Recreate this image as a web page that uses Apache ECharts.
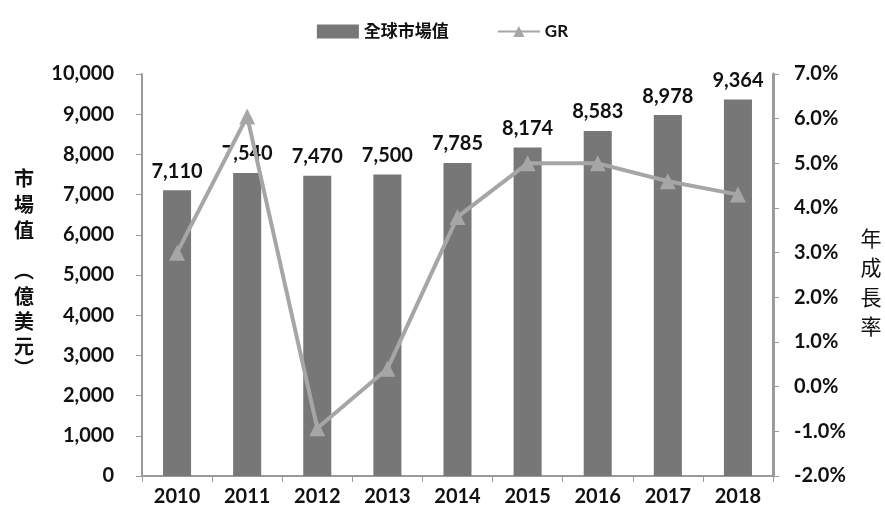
<!DOCTYPE html>
<html><head><meta charset="utf-8">
<script src="https://cdn.jsdelivr.net/npm/echarts@6/dist/echarts.min.js"></script>
<style>html,body{margin:0;padding:0;background:#fff}#c{width:885px;height:515px}</style>
</head><body><div id="c"></div>
<script>
const years = ['2010','2011','2012','2013','2014','2015','2016','2017','2018'];
const marketValue = [7110, 7540, 7470, 7500, 7785, 8174, 8583, 8978, 9364];
const growthRate = [3.0, 6.05, -0.93, 0.4, 3.8, 5.0, 5.0, 4.6, 4.3];
const barName = '全球市場值';
const lineName = 'GR';
const leftAxisTitleChars = ['市','場','值','︵','億','美','元','︶'];
const rightAxisTitleChars = ['年','成','長','率'];

const leftTitleY = [178, 204, 230, 270, 296, 321, 346, 368];
const rightTitleY = [238, 267, 297, 326];

const chart = echarts.init(document.getElementById('c'));
const font = 'Lato, "Noto Sans CJK TC", sans-serif';
const axisCol = '#9a9a9a';
const graphics = [];
leftAxisTitleChars.forEach((ch, i) => graphics.push({
  type: 'text', x: 24, y: leftTitleY[i],
  style: {text: ch, align: 'center', verticalAlign: 'middle', font: 'bold 20px "Noto Sans CJK TC"', fill: '#111'}
}));
rightAxisTitleChars.forEach((ch, i) => graphics.push({
  type: 'text', x: 871, y: rightTitleY[i],
  style: {text: ch, align: 'center', verticalAlign: 'middle', font: '21px "Noto Sans CJK TC"', fill: '#111'}
}));

chart.setOption({
  animation: false,
  textStyle: {fontFamily: font},
  legend: {
    top: 18, left: 'center', itemGap: 48, itemWidth: 42, itemHeight: 14,
    textStyle: {fontSize: 17, fontWeight: 'bold', color: '#111', fontFamily: font},
    data: [{name: barName, icon: 'rect'}, {name: lineName}]
  },
  grid: {left: 142, right: 112, top: 74, bottom: 39, containLabel: false},
  xAxis: {
    type: 'category', data: years,
    axisLine: {lineStyle: {color: axisCol, width: 2}},
    axisTick: {show: true, length: 6, lineStyle: {color: axisCol}},
    axisLabel: {fontSize: 20, fontWeight: 'bold', color: '#111', margin: 11, fontFamily: font}
  },
  yAxis: [{
    type: 'value', min: 0, max: 10000, interval: 1000,
    axisLine: {show: true, lineStyle: {color: axisCol, width: 2}},
    axisTick: {show: true, length: 6, lineStyle: {color: axisCol}},
    splitLine: {show: false},
    axisLabel: {fontSize: 20, fontWeight: 'bold', color: '#111', margin: 28, fontFamily: font,
      formatter: v => v.toLocaleString('en-US')}
  }, {
    type: 'value', min: -2, max: 7, interval: 1, position: 'right',
    axisLine: {show: true, lineStyle: {color: axisCol, width: 3}},
    axisTick: {show: true, length: 6, lineStyle: {color: axisCol}},
    splitLine: {show: false},
    axisLabel: {fontSize: 20, fontWeight: 'bold', color: '#111', margin: 21, fontFamily: font,
      formatter: v => v.toFixed(1) + '%'}
  }],
  graphic: graphics,
  series: [{
    name: barName, type: 'bar', data: marketValue, barWidth: '40%',
    itemStyle: {color: '#777777'},
    label: {show: true, position: 'top', distance: 9, fontSize: 20, fontWeight: 'bold', color: '#111', fontFamily: font,
      formatter: p => p.value.toLocaleString('en-US')}
  }, {
    name: lineName, type: 'line', yAxisIndex: 1, data: growthRate,
    symbol: 'triangle', symbolSize: 16,
    lineStyle: {color: '#a6a6a6', width: 4},
    itemStyle: {color: '#a6a6a6'}
  }]
});
</script></body></html>
